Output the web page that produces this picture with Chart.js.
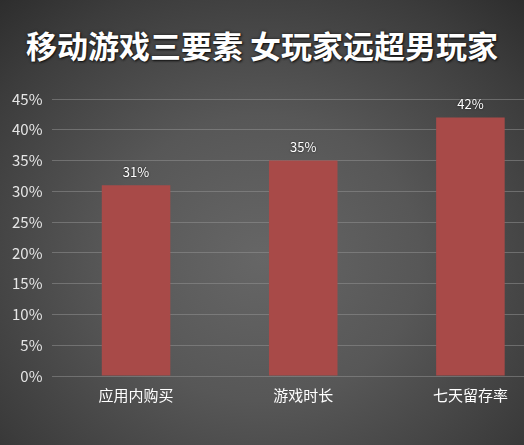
<!DOCTYPE html>
<html>
<head>
<meta charset="utf-8">
<script src="https://cdn.jsdelivr.net/npm/chart.js@4.4.1/dist/chart.umd.min.js"></script>
<style>
    html, body { margin: 0; padding: 0; width: 524px; height: 445px; overflow: hidden; }
    body {
        background: radial-gradient(ellipse 75% 80% at 50% 58%, #666 0%, #575757 40%, #3c3c3c 80%, #2c2c2c 100%);
        position: relative;
        font-family: "Noto Sans CJK SC", "Noto Sans", sans-serif;
    }
    #title {
        position: absolute; left: 0; top: 22px; width: 524px;
        text-align: center; color: #fff; font-size: 31px; font-weight: bold;
        text-shadow: 1px 1px 2px #111, 0 0 3px #222;
    }
    #wrap { position: absolute; left: 0; top: 0; width: 556px; height: 445px; }
</style>
</head>
<body>
<div id="title">移动游戏三要素 女玩家远超男玩家</div>
<div id="wrap"><canvas id="chart"></canvas></div>
<script>
const categories = ['应用内购买', '游戏时长', '七天留存率'];
const values = [31, 35, 42];
const yTicks = [0, 5, 10, 15, 20, 25, 30, 35, 40, 45];

const FONT = '"Noto Sans CJK SC", "Noto Sans", sans-serif';

// value labels above bars
const barLabels = {
    id: 'barLabels',
    afterDatasetsDraw(chart) {
        const ctx = chart.ctx;
        const meta = chart.getDatasetMeta(0);
        ctx.save();
        ctx.font = '13px ' + FONT;
        ctx.fillStyle = '#fff';
        ctx.textAlign = 'center';
        ctx.textBaseline = 'bottom';
        ctx.shadowColor = 'rgba(0,0,0,0.7)';
        ctx.shadowBlur = 2;
        meta.data.forEach((bar, i) => {
            ctx.fillText(values[i] + '%', bar.x, bar.y - 7);
        });
        ctx.restore();
    }
};

new Chart(document.getElementById('chart'), {
    type: 'bar',
    data: {
        labels: categories,
        datasets: [{
            data: values,
            backgroundColor: '#a84a48',
            barPercentage: 0.41,
            categoryPercentage: 1
        }]
    },
    options: {
        responsive: true,
        maintainAspectRatio: false,
        animation: false,
        layout: { padding: { top: 99, left: 2, right: 2, bottom: 31 } },
        plugins: { legend: { display: false }, tooltip: { enabled: false } },
        scales: {
            x: {
                grid: { display: false, drawTicks: false },
                border: { display: false },
                ticks: { color: '#fff', font: { family: FONT, size: 15 }, padding: 10 }
            },
            y: {
                min: 0, max: 45,
                afterBuildTicks: axis => { axis.ticks = yTicks.map(v => ({ value: v })); },
                grid: { color: 'rgba(150,150,150,0.5)', drawTicks: false, lineWidth: 1 },
                border: { display: false },
                ticks: {
                    color: '#e6e6e6',
                    font: { family: FONT, size: 15 },
                    padding: 10,
                    callback: v => v + '%'
                }
            }
        }
    },
    plugins: [barLabels]
});
</script>
</body>
</html>
